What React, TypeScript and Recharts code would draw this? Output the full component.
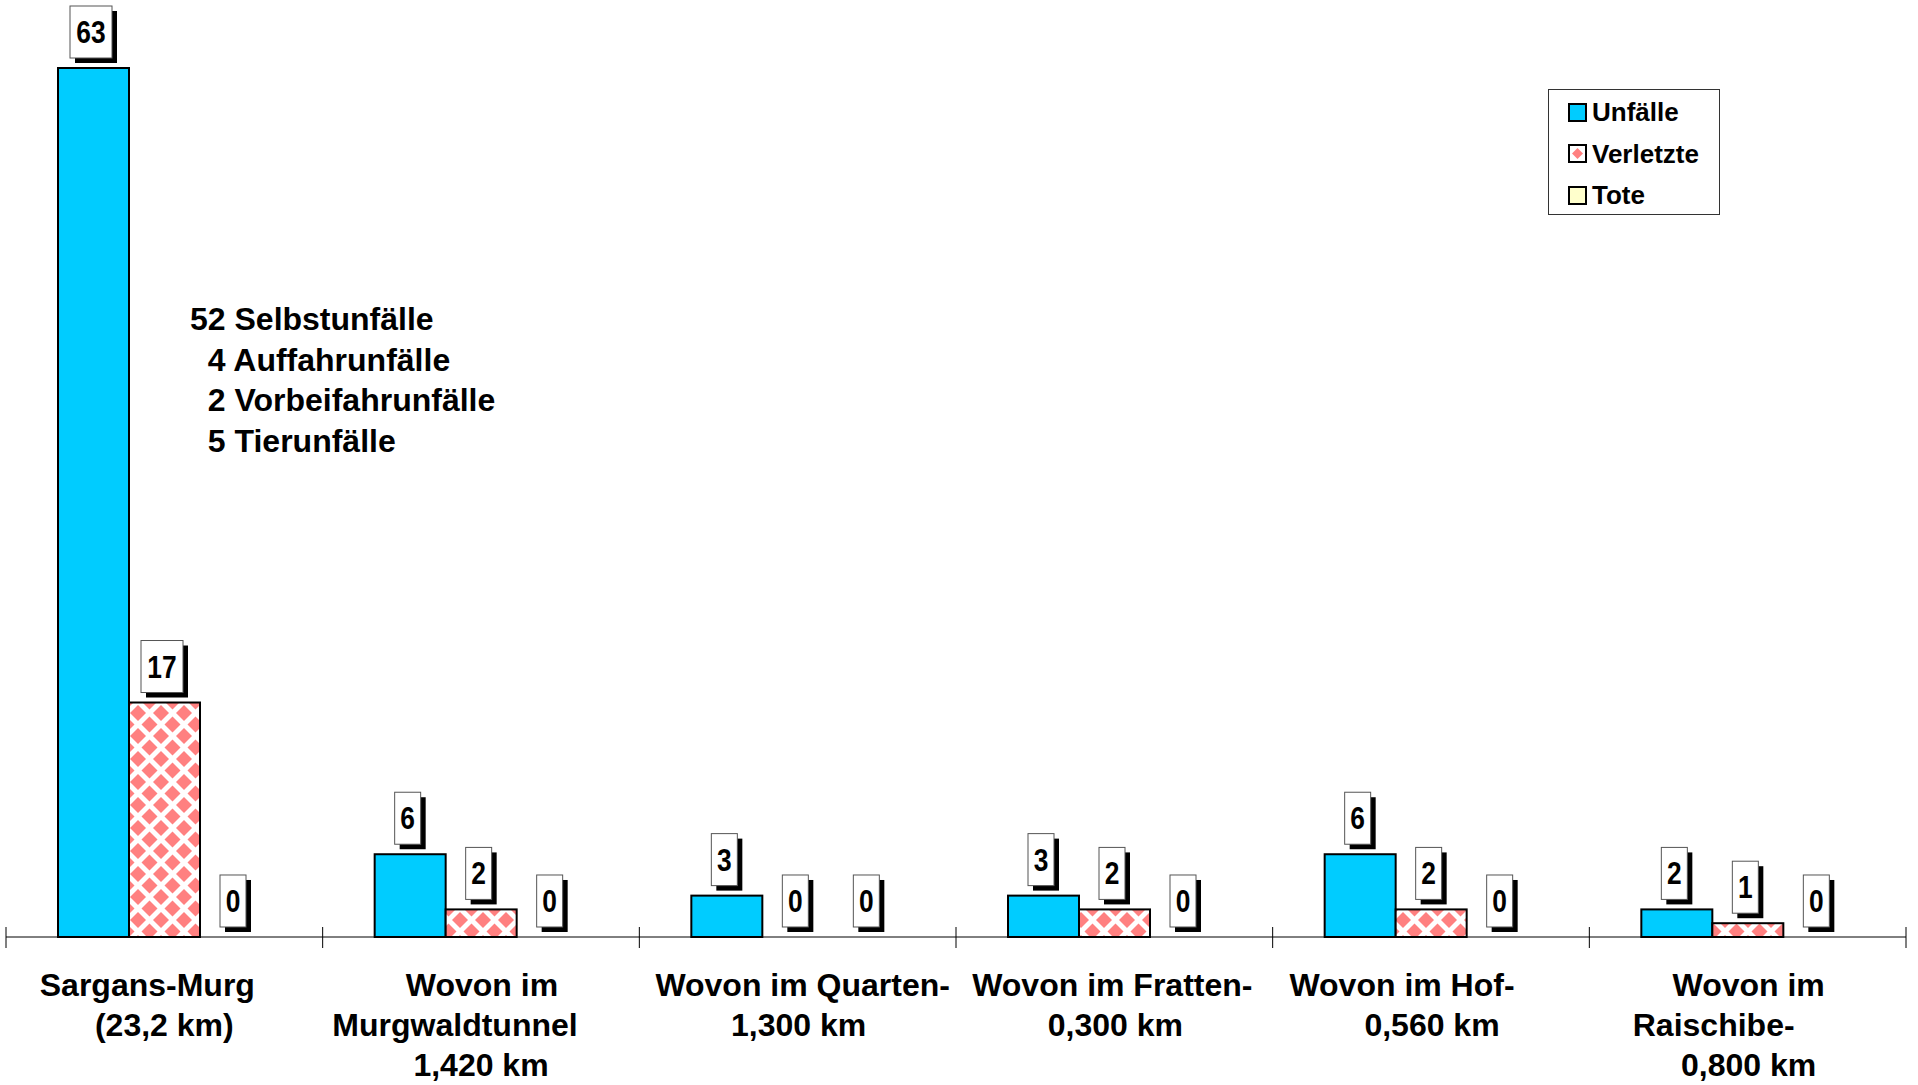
import React from 'react';
import { BarChart, Bar, XAxis, YAxis, LabelList, Legend } from 'recharts';

// ---- data ----
const categories = [
  'Sargans-Murg\n(23,2 km)',
  'Wovon im\nMurgwaldtunnel\n1,420 km',
  'Wovon im Quarten-\n1,300 km',
  'Wovon im Fratten-\n0,300 km',
  'Wovon im Hof-\n0,560 km',
  'Wovon im\nRaischibe-\n0,800 km',
];
const unfaelle = [63, 6, 3, 3, 6, 2];
const verletzte = [17, 2, 0, 2, 2, 1];
const tote = [0, 0, 0, 0, 0, 0];
const seriesNames = ['Unfälle', 'Verletzte', 'Tote'];
const noteLines = ['52 Selbstunfälle', '  4 Auffahrunfälle', '  2 Vorbeifahrunfälle', '  5 Tierunfälle'];

const data = categories.map((c, i) => ({ cat: c, u: unfaelle[i], v: verletzte[i], t: tote[i] }));

// ---- styles ----
const FONT = '"Liberation Sans", Arial, Helvetica, sans-serif';
const CYAN = '#00CCFF';
const PINK = '#FF8080';
const YELLOW = '#FFFFCC';
// horizontal shift of each wrapped line of the category labels (layout only)
const LINE_SHIFT = [[-17, 0], [1, -26, 0], [5, 1], [-2, 1], [-29, 1], [1, -34, 1]];

const CatTick = (props: any) => {
  const { x, y, payload, index } = props;
  const half = payload && typeof payload.offset === 'number' && payload.offset > 0 ? payload.offset : 158.33;
  const lines = String(payload.value).split('\n');
  const shifts = LINE_SHIFT[index] || [];
  return (
    <g>
      <line x1={x - half} x2={x - half} y1={y - 10} y2={y + 11} stroke="#000" strokeWidth={1} />
      {index === categories.length - 1 && (
        <line x1={x + half} x2={x + half} y1={y - 10} y2={y + 11} stroke="#000" strokeWidth={1} />
      )}
      {lines.map((l, i) => (
        <text
          key={i}
          x={x + (shifts[i] || 0)}
          y={y + 59 + i * 40}
          textAnchor="middle"
          fontFamily={FONT}
          fontSize={32}
          fontWeight="bold"
          fill="#000"
        >
          {l}
        </text>
      ))}
    </g>
  );
};

const BarShape = (props: any) => {
  const { x, y, width, height, fill, stroke, strokeWidth } = props;
  if (!(Math.abs(height) >= 0.5)) return <g />;
  return <rect x={x} y={y} width={width} height={height} fill={fill} stroke={stroke} strokeWidth={strokeWidth} />;
};

const BoxLabel = (props: any) => {
  const { x, y, width, height, value } = props;
  const s = String(value);
  const w = s.length * 16 + 10;
  const h = 52;
  const top = Math.min(y, y + (height || 0));
  const cx = x + width / 2 - 2.5;
  const bottom = top - 10;
  return (
    <g>
      <rect x={cx - w / 2 + 5} y={bottom - h + 5} width={w} height={h} fill="#000" />
      <rect x={cx - w / 2} y={bottom - h} width={w} height={h} fill="#fff" stroke="#555" strokeWidth={1} />
      <text
        x={0}
        y={0}
        transform={`translate(${cx},${bottom - h / 2 + 11}) scale(0.85,1)`}
        textAnchor="middle"
        fontFamily={FONT}
        fontSize={31}
        fontWeight="bold"
        fill="#000"
      >
        {s}
      </text>
    </g>
  );
};

const swatchFill = [CYAN, '#fff', YELLOW];

const LegendBox = () => (
  <div
    style={{
      width: 172,
      height: 126,
      boxSizing: 'border-box',
      border: '1px solid #333',
      background: '#fff',
      position: 'relative',
      fontFamily: FONT,
      fontWeight: 'bold',
      fontSize: 26,
      color: '#000',
    }}
  >
    {seriesNames.map((n, i) => (
      <div
        key={n}
        style={{
          position: 'absolute',
          left: 19,
          top: 22 + i * 41.6 - 16,
          height: 32,
          display: 'flex',
          alignItems: 'center',
          whiteSpace: 'nowrap',
        }}
      >
        <svg width={19} height={19} style={{ display: 'block' }}>
          <rect x={1} y={1} width={17} height={17} fill={swatchFill[i]} stroke="#000" strokeWidth={2} />
          {i === 1 && <polygon points="9.5,4 15,9.5 9.5,15 4,9.5" fill={PINK} />}
        </svg>
        <span style={{ marginLeft: 5, lineHeight: '32px' }}>{n}</span>
      </div>
    ))}
  </div>
);

export default function App() {
  return (
    <div style={{ position: 'absolute', left: 0, top: 0, width: 1918, height: 1085, background: '#fff' }}>
      <svg width={0} height={0} style={{ position: 'absolute' }}>
        <defs>
          <pattern id="pinkDiamonds" patternUnits="userSpaceOnUse" width={23} height={23}>
            <rect x={0} y={0} width={23} height={23} fill="#fff" />
            {[
              [0, 0],
              [23, 0],
              [0, 23],
              [23, 23],
              [11.5, 11.5],
            ].map(([px, py], k) => (
              <polygon
                key={k}
                points={`${px},${py - 8} ${px + 8},${py} ${px},${py + 8} ${px - 8},${py}`}
                fill={PINK}
              />
            ))}
          </pattern>
        </defs>
      </svg>
      <BarChart
        width={1918}
        height={1085}
        data={data}
        margin={{ top: 68, right: 12, left: 6, bottom: 0 }}
        barGap={0}
        barSize={71}
      >
        <XAxis
          dataKey="cat"
          height={148}
          interval={0}
          tickLine={false}
          tickSize={0}
          tickMargin={0}
          axisLine={{ stroke: '#000', strokeWidth: 1 }}
          tick={<CatTick />}
        />
        <YAxis hide domain={[0, 63]} />
        <Legend
          layout="vertical"
          align="center"
          verticalAlign="middle"
          content={<LegendBox />}
          wrapperStyle={{ position: 'absolute', left: 1548, top: 89, width: 172, height: 126 }}
        />
        <Bar dataKey="u" name={seriesNames[0]} fill={CYAN} stroke="#000" strokeWidth={2} minPointSize={0.01} shape={<BarShape />} isAnimationActive={false}>
          <LabelList dataKey="u" content={<BoxLabel />} />
        </Bar>
        <Bar dataKey="v" name={seriesNames[1]} fill="url(#pinkDiamonds)" stroke="#000" strokeWidth={2} minPointSize={0.01} shape={<BarShape />} isAnimationActive={false}>
          <LabelList dataKey="v" content={<BoxLabel />} />
        </Bar>
        <Bar dataKey="t" name={seriesNames[2]} fill={YELLOW} stroke="#000" strokeWidth={2} minPointSize={0.01} shape={<BarShape />} isAnimationActive={false}>
          <LabelList dataKey="t" content={<BoxLabel />} />
        </Bar>
      </BarChart>
      <div
        style={{
          position: 'absolute',
          left: 190,
          top: 299,
          fontFamily: FONT,
          fontWeight: 'bold',
          fontSize: 32,
          lineHeight: '40.5px',
          whiteSpace: 'pre',
          color: '#000',
        }}
      >
        {noteLines.map((l) => (
          <div key={l}>{l}</div>
        ))}
      </div>
    </div>
  );
}
